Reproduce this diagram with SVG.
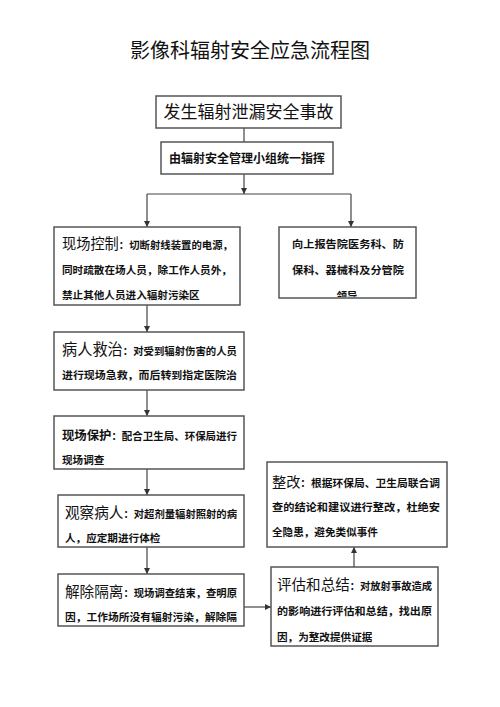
<svg xmlns="http://www.w3.org/2000/svg" width="500" height="707" viewBox="0 0 500 707">
<style>
.bg{fill:#fff}
.box{fill:#fff;stroke:#555;stroke-width:1.5}
.t{font-family:"Noto Sans CJK SC","Noto Sans",sans-serif;fill:#111}
.title{font-size:20px}
.big{font-size:17px}
.mid{font-size:12px;font-weight:bold}
.h{font-size:14.5px}
.b{font-size:10.6px;font-weight:bold}
.c line, .c polyline{stroke:#444;stroke-width:1.2;fill:none}
</style>
<defs>
<marker id="ah" viewBox="0 0 8 8" refX="8" refY="4" markerWidth="6" markerHeight="6" markerUnits="userSpaceOnUse" orient="auto">
<path d="M0,0 L8,4 L0,8 z" fill="#333"/>
</marker>
<clipPath id="clipR"><rect x="279" y="227" width="137" height="70"/></clipPath>
</defs>
<rect class="bg" x="0" y="0" width="500" height="707"/>
<text class="t title" x="250" y="58" text-anchor="middle">影像科辐射安全应急流程图</text>

<g class="c" id="connectors">
<line x1="244" y1="128" x2="244" y2="142"/>
<line x1="244" y1="174" x2="244" y2="194" marker-end="url(#ah)"/>
<line x1="147" y1="194" x2="351" y2="194"/>
<line x1="147" y1="194" x2="147" y2="227" marker-end="url(#ah)"/>
<line x1="351" y1="194" x2="351" y2="227" marker-end="url(#ah)"/>
<line x1="147" y1="305" x2="147" y2="332" marker-end="url(#ah)"/>
<line x1="147" y1="390" x2="147" y2="416" marker-end="url(#ah)"/>
<line x1="147" y1="469" x2="147" y2="495" marker-end="url(#ah)"/>
<line x1="147" y1="547" x2="147" y2="574" marker-end="url(#ah)"/>
<line x1="244" y1="607" x2="271" y2="607" marker-end="url(#ah)"/>
<line x1="354" y1="567" x2="354" y2="547" marker-end="url(#ah)"/>
</g>

<g id="n1">
<rect class="box" x="156" y="96" width="185" height="32"/>
<text class="t big" x="248.5" y="118" text-anchor="middle">发生辐射泄漏安全事故</text>
</g>
<g id="n2">
<rect class="box" x="161" y="142" width="172" height="32"/>
<text class="t mid" x="247" y="162.5" text-anchor="middle">由辐射安全管理小组统一指挥</text>
</g>
<g id="n3">
<rect class="box" x="54" y="227" width="186" height="78"/>
<text class="t" x="62" y="249" textLength="171" lengthAdjust="spacingAndGlyphs"><tspan class="h">现场控制</tspan><tspan class="b">：切断射线装置的电源，</tspan></text>
<text class="t b" x="62" y="274" textLength="170" lengthAdjust="spacingAndGlyphs">同时疏散在场人员，除工作人员外，</text>
<text class="t b" x="62" y="299">禁止其他人员进入辐射污染区</text>
</g>
<g id="n4">
<rect class="box" x="279" y="227" width="137" height="71"/>
<text class="t b" x="348" y="248" text-anchor="middle" textLength="112" lengthAdjust="spacingAndGlyphs">向上报告院医务科、防</text>
<text class="t b" x="348" y="274" text-anchor="middle" textLength="112" lengthAdjust="spacingAndGlyphs">保科、器械科及分管院</text>
<text class="t b" x="347" y="300" text-anchor="middle" clip-path="url(#clipR)">领导</text>
</g>
<g id="n5">
<rect class="box" x="54" y="332" width="190" height="58"/>
<text class="t" x="62" y="355" textLength="175" lengthAdjust="spacingAndGlyphs"><tspan class="h" style="font-size:15.5px">病人救治</tspan><tspan class="b">：对受到辐射伤害的人员</tspan></text>
<text class="t b" x="62" y="379" textLength="175" lengthAdjust="spacingAndGlyphs">进行现场急救，而后转到指定医院治</text>
</g>
<g id="n6">
<rect class="box" x="54" y="416" width="190" height="53"/>
<text class="t" x="62" y="440" textLength="175" lengthAdjust="spacingAndGlyphs"><tspan class="h" style="font-size:12.5px;font-weight:bold">现场保护</tspan><tspan class="b">：配合卫生局、环保局进行</tspan></text>
<text class="t b" x="62" y="464">现场调查</text>
</g>
<g id="n7">
<rect class="box" x="58" y="495" width="186" height="52"/>
<text class="t" x="65" y="518" textLength="172" lengthAdjust="spacingAndGlyphs"><tspan class="h" style="font-size:15px">观察病人</tspan><tspan class="b">：对超剂量辐射照射的病</tspan></text>
<text class="t b" x="65" y="542">人，应定期进行体检</text>
</g>
<g id="n8">
<rect class="box" x="58" y="574" width="186" height="52"/>
<text class="t" x="65" y="597" textLength="172" lengthAdjust="spacingAndGlyphs"><tspan class="h" style="font-size:15px">解除隔离</tspan><tspan class="b">：现场调查结束，查明原</tspan></text>
<text class="t b" x="65" y="621" textLength="172" lengthAdjust="spacingAndGlyphs">因，工作场所没有辐射污染，解除隔</text>
</g>
<g id="n9">
<rect class="box" x="267" y="462" width="180" height="85"/>
<text class="t" x="272" y="487" textLength="168" lengthAdjust="spacingAndGlyphs"><tspan class="h" style="font-size:14px">整改</tspan><tspan class="b">：根据环保局、卫生局联合调</tspan></text>
<text class="t b" x="272" y="511" textLength="168" lengthAdjust="spacingAndGlyphs">查的结论和建议进行整改，杜绝安</text>
<text class="t b" x="272" y="536">全隐患，避免类似事件</text>
</g>
<g id="n10">
<rect class="box" x="271" y="567" width="167" height="79"/>
<text class="t" x="277" y="590" textLength="155" lengthAdjust="spacingAndGlyphs"><tspan class="h" style="font-size:15px">评估和总结</tspan><tspan class="b">：对放射事故造成</tspan></text>
<text class="t b" x="277" y="615" textLength="155" lengthAdjust="spacingAndGlyphs">的影响进行评估和总结，找出原</text>
<text class="t b" x="277" y="641">因，为整改提供证据</text>
</g>
</svg>
